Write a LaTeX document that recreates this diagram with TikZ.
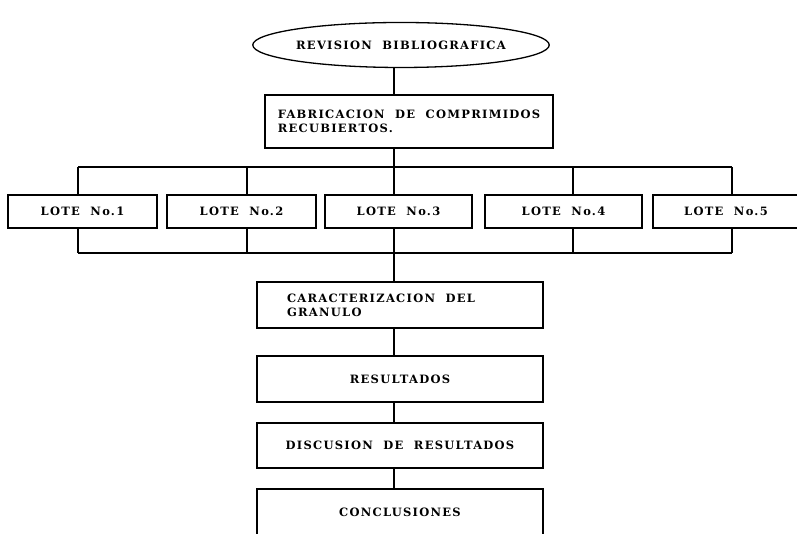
\documentclass[tikz,border=0pt]{standalone}
\usepackage{fontspec}
\setmainfont{Liberation Serif}
\newfontfamily\chartfont[LetterSpace=11,WordSpace=2]{DejaVu Serif}
\usetikzlibrary{shapes,positioning,calc}

\begin{document}
\begin{tikzpicture}[
    x=1pt,y=1pt,
    every node/.style={draw,line width=1.3pt,fill=white,inner sep=0pt,font=\chartfont\bfseries\fontsize{11.5}{14}\selectfont},
    stagebox/.style={minimum width=286pt,minimum height=46pt},
    lotebox/.style={minimum height=33pt},
    link/.style={line width=1.3pt}
]
\useasboundingbox (0,0) rectangle (797,534);
\clip (0,0) rectangle (797,534);

% Guide lines
\coordinate (spine) at (394,0);
\coordinate (bustop) at (0,367);
\coordinate (busbot) at (0,281);
\coordinate (drop1) at (78,0);
\coordinate (drop2) at (247,0);
\coordinate (drop4) at (573,0);
\coordinate (drop5) at (732,0);

% Start
\node[ellipse,minimum width=288pt,minimum height=45pt] (rev) at (401,489) {REVISION BIBLIOGRAFICA};

% Fabrication
\node[align=left,minimum width=288pt,minimum height=53pt] (fab) at (409,412.5) {FABRICACION DE COMPRIMIDOS\\RECUBIERTOS.};

% Batches
\node[lotebox,minimum width=149pt] (lote1) at (82.5,322.5) {LOTE No.1};
\node[lotebox,minimum width=149pt] (lote2) at (241.5,322.5) {LOTE No.2};
\node[lotebox,minimum width=147pt] (lote3) at (398.5,322.5) {LOTE No.3};
\node[lotebox,minimum width=157pt] (lote4) at (563.5,322.5) {LOTE No.4};
\node[lotebox,minimum width=146pt] (lote5) at (726,322.5) {LOTE No.5};

% Later stages
\node[align=flush left,text width=226pt,inner xsep=30pt,minimum height=46pt] (caract) at (400,229) {CARACTERIZACION DEL\\GRANULO};
\node[stagebox] (result) at (400,155) {RESULTADOS};
\node[stagebox,minimum height=45pt] (discus) at (400,88.5) {DISCUSION DE RESULTADOS};
\node[stagebox] (concl) at (400,22) {CONCLUSIONES};

% Connections
\draw[link] (rev.south -| spine) -- (fab.north -| spine);
\draw[link] (fab.south -| spine) -- (lote3.north -| spine);
\draw[link] (drop1 |- bustop) -- (drop5 |- bustop);
\draw[link] (drop1 |- bustop) -- (drop1 |- lote1.north);
\draw[link] (drop2 |- bustop) -- (drop2 |- lote2.north);
\draw[link] (drop4 |- bustop) -- (drop4 |- lote4.north);
\draw[link] (drop5 |- bustop) -- (drop5 |- lote5.north);
\draw[link] (drop1 |- lote1.south) -- (drop1 |- busbot);
\draw[link] (drop2 |- lote2.south) -- (drop2 |- busbot);
\draw[link] (drop4 |- lote4.south) -- (drop4 |- busbot);
\draw[link] (drop5 |- lote5.south) -- (drop5 |- busbot);
\draw[link] (drop1 |- busbot) -- (drop5 |- busbot);
\draw[link] (lote3.south -| spine) -- (caract.north -| spine);
\draw[link] (caract.south -| spine) -- (result.north -| spine);
\draw[link] (result.south -| spine) -- (discus.north -| spine);
\draw[link] (discus.south -| spine) -- (concl.north -| spine);

\end{tikzpicture}
\end{document}
